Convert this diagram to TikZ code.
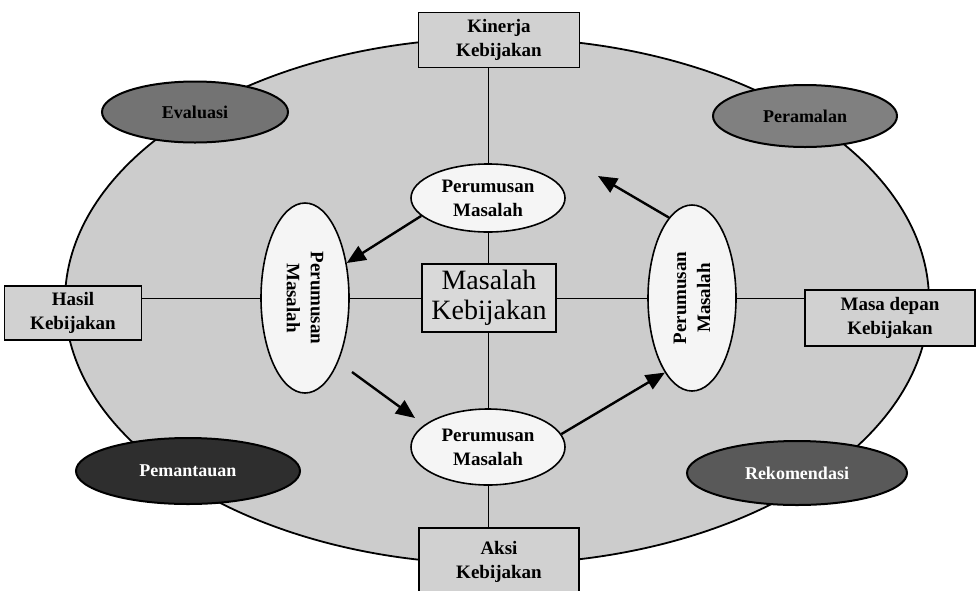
\documentclass[tikz,border=0pt]{standalone}
\usepackage{fontspec}
\setmainfont{Liberation Serif}
\usetikzlibrary{shapes.geometric,arrows.meta}
\begin{document}
\begin{tikzpicture}[x=1pt,y=-1pt,
    kotak/.style={draw,line width=1.2pt,fill=black!18,align=center,inner sep=0pt,
      font=\fontsize{19}{24}\selectfont\bfseries},
    lonjong/.style={draw,ellipse,line width=1.6pt,fill=black!4,inner sep=0pt},
    tahap/.style={draw,ellipse,line width=2pt,inner sep=0pt,
      font=\fontsize{18}{22}\selectfont\bfseries},
    garis/.style={line width=1pt},
    panah/.style={line width=2.4pt,-{Triangle[length=19pt,width=16pt]}}]
  \useasboundingbox (0,0) rectangle (979,590);
  \node[ellipse,draw,line width=1.8pt,fill=black!20,minimum width=864pt,minimum height=526pt] (arena) at (497,301) {};
  % tahap analisis kebijakan
  \node[tahap,fill=black!55,minimum width=186pt,minimum height=61pt] (eval) at (195,112) {Evaluasi};
  \node[tahap,fill=black!50,minimum width=184pt,minimum height=62pt] (ramal) at (805,116) {Peramalan};
  \node[tahap,fill=black!82,text=white,minimum width=224pt,minimum height=66pt] (pantau) at (188,471) {Pemantauan};
  \node[tahap,fill=black!65,text=white,minimum width=220pt,minimum height=64pt] (rekom) at (797,473) {Rekomendasi};
  % informasi kebijakan
  \node[kotak,minimum width=161pt,minimum height=55pt] (kinerja) at (499,40) {Kinerja\\Kebijakan};
  \node[kotak,minimum width=160pt,minimum height=68pt] (aksi) at (499,562) {Aksi\\Kebijakan};
  \node[kotak,minimum width=137pt,minimum height=54pt] (hasil) at (73,313) {Hasil\\Kebijakan};
  \node[kotak,minimum width=170pt,minimum height=56pt] (masa) at (890,318) {Masa depan\\Kebijakan};
  \node[kotak,fill=black!15,minimum width=134pt,minimum height=68pt,
    font=\fontsize{28}{30}\selectfont] (pusat) at (489,298) {Masalah\\Kebijakan};
  % perumusan masalah
  \node[lonjong,minimum width=154pt,minimum height=68pt,align=center,
    font=\fontsize{19}{24}\selectfont\bfseries] (atas) at (488,198) {Perumusan\\Masalah};
  \node[lonjong,minimum width=154pt,minimum height=76pt,align=center,
    font=\fontsize{19}{24}\selectfont\bfseries] (bawah) at (488,447) {Perumusan\\Masalah};
  \node[lonjong,minimum width=88pt,minimum height=190pt] (kiri) at (305,298) {};
  \node[lonjong,minimum width=88pt,minimum height=186pt] (kanan) at (692,298) {};
  \node[rotate=-90,align=center,font=\fontsize{19}{24}\selectfont\bfseries] (kiriteks) at (kiri) {Perumusan\\Masalah};
  \node[rotate=90,align=center,font=\fontsize{19}{24}\selectfont\bfseries] (kananteks) at (kanan) {Perumusan\\Masalah};
  \coordinate (ujung2) at (598,176);
  \coordinate (pangkal3) at (352,372);
  \coordinate (ujung3) at (415,418);
  \begin{scope}[garis]
    \draw (atas.north) -- (atas.north |- kinerja.south);
    \draw (atas.south) -- (atas.south |- pusat.north);
    \draw (bawah.north |- pusat.south) -- (bawah.north);
    \draw (bawah.south) -- (bawah.south |- aksi.north);
    \draw (kiri.west -| hasil.east) -- (kiri.west);
    \draw (kiri.east) -- (kiri.east -| pusat.west);
    \draw (kanan.west -| pusat.east) -- (kanan.west);
    \draw (kanan.east) -- (kanan.east -| masa.west);
  \end{scope}
  \begin{scope}[panah]
    \draw (atas.195) -- (kiri.40);
    \draw (kanan.106) -- (ujung2);
    \draw (pangkal3) -- (ujung3);
    \draw (bawah.10) -- (kanan.250);
  \end{scope}
\end{tikzpicture}
\end{document}
